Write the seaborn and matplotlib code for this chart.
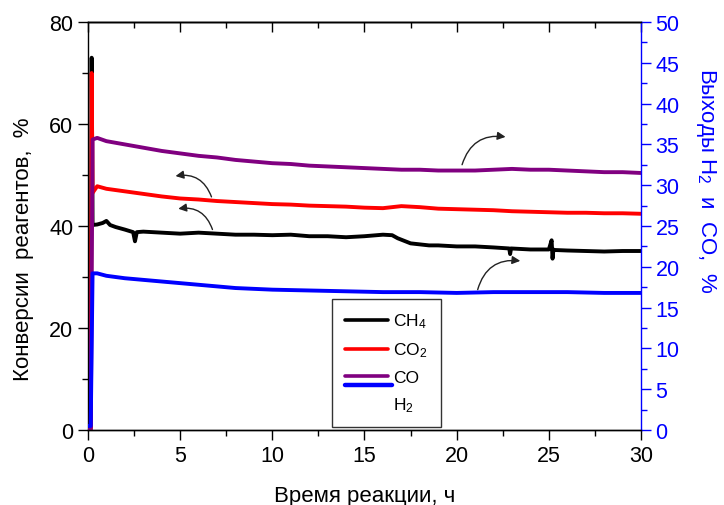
import matplotlib
matplotlib.use("Agg")
import numpy as np
import pandas as pd
import seaborn as sns
import matplotlib.pyplot as plt
from matplotlib.ticker import MultipleLocator
from matplotlib.lines import Line2D
from matplotlib.legend_handler import HandlerBase

# ---------------- data ----------------
t_ch4 = [0, 0.15, 0.2, 0.25, 0.5, 0.8, 1.0, 1.2, 1.5, 2.0, 2.45, 2.55, 2.65, 3.0, 4, 5, 6, 7, 8, 9,
         10, 11, 12, 13, 14, 15, 16, 16.5, 16.8, 17.5, 18.5, 19, 20, 21, 22, 22.85, 22.9, 22.95,
         24, 25, 25.15, 25.2, 25.25, 25.3, 26, 27, 28, 29, 30]
ch4 = [0.5, 0.5, 73, 40.2, 40.3, 40.6, 41.0, 40.2, 39.8, 39.3, 38.8, 37.0, 38.8, 38.9, 38.7, 38.5,
       38.7, 38.5, 38.3, 38.3, 38.2, 38.3, 38.0, 38.0, 37.8, 38.0, 38.3, 38.2, 37.6, 36.6, 36.2,
       36.2, 36.0, 36.0, 35.8, 35.6, 34.5, 35.6, 35.4, 35.4, 37.2, 33.6, 35.4, 35.3, 35.2, 35.1,
       35.0, 35.1, 35.1]

t_co2 = [0, 0.15, 0.2, 0.25, 0.5, 1, 2, 3, 4, 5, 6, 7, 8, 9, 10, 11, 12, 13, 14, 15, 16, 17,
         18, 19, 20, 21, 22, 23, 24, 25, 26, 27, 28, 29, 30]
co2 = [0, 0, 70, 46.5, 47.8, 47.3, 46.8, 46.3, 45.8, 45.4, 45.2, 44.9, 44.7, 44.5, 44.3, 44.2,
       44.0, 43.9, 43.8, 43.6, 43.5, 43.9, 43.7, 43.4, 43.3, 43.2, 43.1, 42.9, 42.8, 42.7, 42.6,
       42.6, 42.5, 42.5, 42.4]

t_co = [0, 0.15, 0.25, 0.5, 1, 2, 3, 4, 5, 6, 7, 8, 9, 10, 11, 12, 13, 14, 15, 16, 17, 18, 19,
        20, 21, 22, 23, 24, 25, 26, 27, 28, 29, 30]
co = [0, 0, 35.6, 35.8, 35.4, 35.0, 34.6, 34.2, 33.9, 33.6, 33.4, 33.1, 32.9, 32.7, 32.6, 32.4,
      32.3, 32.2, 32.1, 32.0, 31.9, 31.9, 31.8, 31.8, 31.8, 31.9, 32.0, 31.9, 31.9, 31.8, 31.7,
      31.6, 31.6, 31.5]

t_h2 = [0, 0.15, 0.25, 0.5, 1, 2, 3, 4, 5, 6, 7, 8, 9, 10, 12, 14, 16, 18, 20, 22, 24, 26, 28, 30]
h2 = [0.5, 0.5, 19.2, 19.2, 18.9, 18.6, 18.4, 18.2, 18.0, 17.8, 17.6, 17.4, 17.3, 17.2, 17.1,
      17.0, 16.9, 16.9, 16.8, 16.9, 16.9, 16.9, 16.8, 16.8]

labels = ["CH$_4$", "CO$_2$", "CO", "H$_2$"]
xticks = [0, 5, 10, 15, 20, 25, 30]
left_ticks = [0, 20, 40, 60, 80]
right_ticks = list(range(0, 55, 5))

# ---------------- style ----------------
sns.set_theme(style="white")
plt.rcParams["font.family"] = ["Liberation Sans", "DejaVu Sans"]
plt.rcParams["mathtext.fontset"] = "custom"
plt.rcParams["mathtext.rm"] = "Liberation Sans"
plt.rcParams["mathtext.it"] = "Liberation Sans"
for k in ("text.color", "axes.labelcolor", "xtick.color", "ytick.color", "axes.edgecolor"):
    plt.rcParams[k] = "black"

BLACK, RED, PURPLE, BLUE = "#000000", "#ff0000", "#800080", "#0000ff"
TFS = 15.5   # tick labels
LFS = 16     # axis titles

fig = plt.figure(figsize=(7.24, 5.06), dpi=100)
ax = fig.add_axes([0.1215, 0.1482, 0.7639, 0.8063])
ax2 = ax.twinx()

lw = 2.8
sns.lineplot(x=t_ch4, y=ch4, ax=ax, color=BLACK, lw=lw, estimator=None, sort=False, legend=False)
sns.lineplot(x=t_co2, y=co2, ax=ax, color=RED, lw=lw, estimator=None, sort=False, legend=False)
sns.lineplot(x=t_co, y=co, ax=ax2, color=PURPLE, lw=lw, estimator=None, sort=False, legend=False)
sns.lineplot(x=t_h2, y=h2, ax=ax2, color=BLUE, lw=lw, estimator=None, sort=False, legend=False)

ax.set_xlim(0, 30)
ax.set_ylim(0, 80)
ax2.set_ylim(0, 50)
ax.set_xticks(xticks)
ax.set_yticks(left_ticks)
ax2.set_yticks(right_ticks)
ax.xaxis.set_minor_locator(MultipleLocator(2.5))
ax.yaxis.set_minor_locator(MultipleLocator(10))
ax2.yaxis.set_minor_locator(MultipleLocator(2.5))

for a in (ax, ax2):
    for s in a.spines.values():
        s.set_linewidth(1.0)
        s.set_color(BLACK)
ax.spines["right"].set_visible(False)
ax2.spines["right"].set_color(BLUE)
ax2.spines["left"].set_visible(False)

ax.tick_params(axis="both", which="major", direction="out", length=7, width=1.0,
               labelsize=TFS, colors=BLACK, left=True, bottom=True)
ax.tick_params(axis="both", which="minor", direction="out", length=4, width=1.0,
               color=BLACK, left=True, bottom=True)
ax2.tick_params(axis="y", which="major", direction="out", length=7, width=1.0,
                labelsize=TFS, colors=BLUE, right=True)
ax2.tick_params(axis="y", which="minor", direction="out", length=4, width=1.0,
                color=BLUE, right=True)

sec = ax.secondary_xaxis("top")
sec.set_xticks(xticks)
sec.xaxis.set_minor_locator(MultipleLocator(2.5))
sec.tick_params(which="major", direction="in", length=7, width=1.0, labeltop=False, color=BLACK)
sec.tick_params(which="minor", direction="in", length=4, width=1.0, color=BLACK)
sec.spines["top"].set_linewidth(1.0)
sec.spines["top"].set_color(BLACK)

ax.set_xlabel("Время реакции, ч", fontsize=LFS, color=BLACK)
ax.xaxis.set_label_coords(0.5, -0.135)
ax.set_ylabel("Конверсии  реагентов,  %", fontsize=LFS, color=BLACK)
ax.yaxis.set_label_coords(-0.097, 0.445)
ax2.set_ylabel("Выходы H$_2$  и  CO,  %", fontsize=LFS, color=BLUE, rotation=270)
ax2.yaxis.set_label_coords(1.139, 0.615)

# curved arrows (left-axis data coordinates)
arrow_kw = dict(arrowstyle="-|>", color="#222222", lw=1.0, mutation_scale=12)
ax.annotate("", xy=(4.6, 49.7), xytext=(6.75, 45.2),
            arrowprops=dict(connectionstyle="arc3,rad=0.45", **arrow_kw))
ax.annotate("", xy=(4.75, 43.3), xytext=(6.8, 38.8),
            arrowprops=dict(connectionstyle="arc3,rad=0.45", **arrow_kw))
ax.annotate("", xy=(22.8, 57.4), xytext=(20.25, 51.5),
            arrowprops=dict(connectionstyle="arc3,rad=-0.45", **arrow_kw))
ax.annotate("", xy=(23.6, 33.1), xytext=(21.1, 27.0),
            arrowprops=dict(connectionstyle="arc3,rad=-0.45", **arrow_kw))


# legend: CO entry carries the purple line with a blue line just below, H2 has no line
class PairHandler(HandlerBase):
    def create_artists(self, legend, orig_handle, xdescent, ydescent, width, height, fontsize, trans):
        y = height / 2.0 - ydescent
        l1 = Line2D([-xdescent, width - xdescent], [y, y], color=PURPLE, lw=2.6)
        l2 = Line2D([-xdescent, width - xdescent + 3], [y - 6.5, y - 6.5], color=BLUE, lw=3.2)
        l1.set_transform(trans)
        l2.set_transform(trans)
        return [l1, l2]


h_ch4 = Line2D([], [], color=BLACK, lw=2.6)
h_co2 = Line2D([], [], color=RED, lw=2.6)
h_co = Line2D([], [], color=PURPLE, lw=2.6)
h_h2 = Line2D([], [], color="none", lw=0)
leg = ax.legend([h_ch4, h_co2, h_co, h_h2], labels, loc="lower left",
                bbox_to_anchor=(0.441, 0.007), borderaxespad=0.0, fontsize=12.5,
                frameon=True, fancybox=False, edgecolor=BLACK, handlelength=2.5,
                handletextpad=0.3, labelspacing=0.6, borderpad=0.75,
                handler_map={h_co: PairHandler()})
leg.get_frame().set_linewidth(1.0)
leg.set_zorder(10)

fig.savefig("out.png", dpi=100)
